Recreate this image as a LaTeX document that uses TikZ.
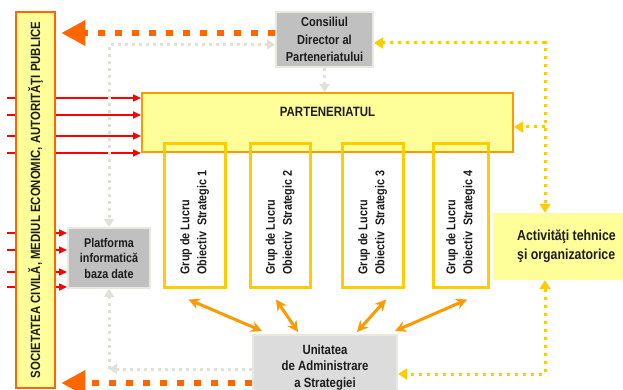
\documentclass[tikz,border=0pt]{standalone}
\usepackage{fontspec}
\setmainfont{Liberation Sans}[FakeStretch=0.85]
\usetikzlibrary{arrows.meta}

\definecolor{paleyellow}{HTML}{FFFF99}
\definecolor{flame}{HTML}{FF6600}
\definecolor{amber}{HTML}{FF9900}
\definecolor{gold}{HTML}{FFCC00}
\definecolor{midgrey}{HTML}{C0C0C0}
\definecolor{lightgrey}{HTML}{DCDCDC}
\definecolor{beige}{HTML}{EAE9DF}
\definecolor{greyline}{HTML}{E2E1D5}
\definecolor{ink}{HTML}{1C1C1C}

\tikzset{
  greytip/.tip={Triangle[length=8pt,width=10pt]},
  goldtip/.tip={Triangle[length=9pt,width=11pt]}
}

\begin{document}
\begin{tikzpicture}[x=1pt, y=-1pt,
    pbox/.style={fill=paleyellow, inner sep=0pt},
    gbox/.style={draw=beige, line width=2pt, inner sep=0pt, align=center, text=ink},
    grupbox/.style={draw=gold, line width=3pt, minimum height=143},
    lbl/.style={text=ink, font=\bfseries\fontsize{13}{16}\selectfont},
    redflow/.style={red, line width=1.6pt, -{Triangle[length=8pt,width=7pt]}},
    bigflow/.style={flame, line width=6.5pt, dash pattern=on 7pt off 10pt, shorten >=5pt, -{Triangle[length=24pt,width=24pt]}},
    greyflow/.style={greyline, line width=3pt, dash pattern=on 3pt off 4pt},
    goldflow/.style={gold, line width=3pt, dash pattern=on 3pt off 5pt},
    duo/.style={amber, line width=3pt, {Stealth[length=11pt,width=11pt]}-{Stealth[length=11pt,width=11pt]}}]

	\clip (0,0) rectangle (623,390);

	% casete
	\node[gbox, fill=midgrey, minimum width=97, minimum height=55,
		font=\bfseries\fontsize{13}{17.5}\selectfont] (cons) at (324.5,39.5) {Consiliul\\Director al\\Parteneriatului};
	\node[pbox, draw=amber, line width=2pt, minimum width=371, minimum height=59] (part) at (327.5,122.5) {};
	\node[lbl, font=\bfseries\fontsize{13.5}{16}\selectfont] (partname) at (327.5,112) {PARTENERIATUL};
	\node[gbox, fill=midgrey, minimum width=82, minimum height=60,
		font=\bfseries\fontsize{12.7}{15.5}\selectfont] (plat) at (109,258) {Platforma\\informatică\\baza date};
	\node[pbox, minimum width=147, minimum height=67, align=left, text=ink,
		font=\bfseries\fontsize{14.5}{19}\selectfont] (act) at (566.5,246.5) {Activităţi tehnice\\şi organizatorice};
	\node[gbox, fill=lightgrey, minimum width=144, minimum height=65,
		font=\bfseries\fontsize{13.4}{16.5}\selectfont] (unit) at (325,367.5) {Unitatea\\de Administrare\\a Strategiei};

	% grupuri de lucru
	\foreach \x/\w [count=\i] in {194.5/61, 280/60, 372.5/61, 460.5/55} {
		\node[grupbox, minimum width=\w] (grup\i) at (\x,215.5) {};
		\node[lbl, rotate=90, anchor=west, align=left, font=\bfseries\fontsize{12.7}{17}\selectfont]
			(grupname\i) at (\x,278) {Grup de Lucru\\Obiectiv\ \ Strategic \i};
	}

	% intrari
	\foreach \y [count=\i] in {98,115,136,153} {
		\coordinate (in\i) at (7,\y);
		\draw[redflow] (in\i) -- (in\i -| part.west);
	}
	\foreach \y [count=\i] in {233,250,272,287} {
		\coordinate (db\i) at (7,\y);
		\draw[redflow] (db\i) -- (db\i -| plat.west);
	}

	\node[pbox, draw=flame, line width=2.5pt, minimum width=39, minimum height=376] (soc) at (35.5,200) {};
	\node[lbl, rotate=90, font=\bfseries\fontsize{13.4}{16}\selectfont] (socname) at (soc.center)
		{SOCIETATEA CIVILĂ, MEDIUL ECONOMIC, AUTORITĂŢI PUBLICE};

	% raportare
	\coordinate (ctop) at ([yshift=6.5pt]cons.west);
	\draw[bigflow] (ctop) -- (ctop -| soc.east);
	\coordinate (ubot) at ([yshift=-15.5pt]unit.west);
	\draw[bigflow] (ubot) -- (ubot -| soc.east);

	% date
	\coordinate (gin) at ([yshift=-5pt]cons.west);
	\draw[greyflow, {greytip}-{greytip}] (gin) -| (plat.north);
	\draw[greyflow, -{greytip}] (cons.south) -- (cons.south |- part.north);
	\coordinate (gout) at ([yshift=-1.5pt]unit.west);
	\coordinate (gknee) at (gout -| plat.south);
	\draw[greyflow, -{greytip}] (gout) -- (gknee);
	\draw[greyflow, -{greytip}] (gknee) -- (plat.south);

	% suport
	\coordinate (yin) at ([yshift=-3.5pt]cons.east);
	\coordinate (yup) at ([xshift=-21.5pt]act.north);
	\draw[goldflow, {goldtip}-{goldtip}] (yin) -| (yup);
	\coordinate (pe) at ([yshift=-4.5pt]part.east);
	\draw[goldflow, -{goldtip}] (pe -| yup) -- (pe);
	\coordinate (ydown) at ([xshift=-21.5pt]act.south);
	\coordinate (yout) at ([yshift=-6.5pt]unit.east);
	\draw[goldflow, {goldtip}-{goldtip}] (ydown) |- (yout);

	% coordonare
	\draw[duo] ([shift={(-6pt,-11pt)}]grup1.south) -- ([shift={(-63pt,3pt)}]unit.north);
	\draw[duo] ([shift={(-4pt,-11pt)}]grup2.south) -- ([shift={(-27pt,2pt)}]unit.north);
	\draw[duo] ([shift={(13.5pt,-11pt)}]grup3.south) -- ([shift={(32pt,2pt)}]unit.north);
	\draw[duo] ([shift={(6.5pt,-11pt)}]grup4.south) -- ([shift={(70pt,3pt)}]unit.north);
\end{tikzpicture}
\end{document}
